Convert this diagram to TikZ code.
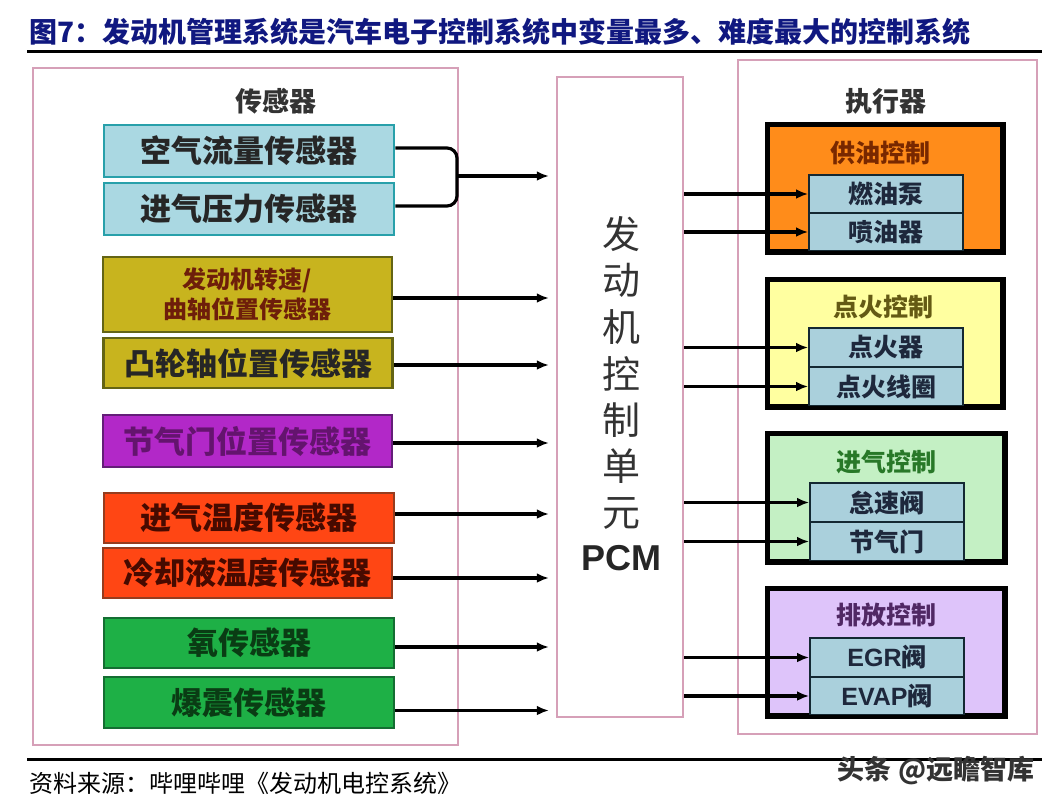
\documentclass[tikz,border=0pt]{standalone}
\usepackage{fontspec}
\newfontfamily\cjk{Noto Sans CJK SC}
\newfontfamily\lat{Liberation Sans}
\usetikzlibrary{arrows.meta,calc}
\definecolor{navy}{RGB}{16,24,128}
\definecolor{pinkb}{RGB}{214,160,184}
\definecolor{bluef}{RGB}{170,216,226}
\definecolor{blued}{RGB}{40,160,170}
\definecolor{olivef}{RGB}{200,180,30}
\definecolor{olived}{RGB}{100,100,20}
\definecolor{olivet}{RGB}{110,30,10}
\definecolor{magf}{RGB}{178,40,200}
\definecolor{magd}{RGB}{100,30,120}
\definecolor{magt}{RGB}{100,20,110}
\definecolor{redf}{RGB}{255,70,20}
\definecolor{redd}{RGB}{150,60,30}
\definecolor{redt}{RGB}{70,10,0}
\definecolor{grnf}{RGB}{30,176,70}
\definecolor{grnd}{RGB}{20,110,50}
\definecolor{grnt}{RGB}{10,60,20}
\definecolor{orgf}{RGB}{255,140,26}
\definecolor{orgt}{RGB}{120,40,0}
\definecolor{ylwf}{RGB}{255,255,160}
\definecolor{ylwt}{RGB}{100,90,20}
\definecolor{lgrf}{RGB}{196,240,196}
\definecolor{lgrt}{RGB}{40,120,40}
\definecolor{lavf}{RGB}{222,196,250}
\definecolor{lavt}{RGB}{80,40,100}
\definecolor{innf}{RGB}{170,208,220}
\definecolor{innd}{RGB}{20,40,50}
\definecolor{innt}{RGB}{30,40,60}
\tikzset{
  panel/.style={draw=pinkb, line width=2.5pt, fill=white, inner sep=0pt},
  sbox/.style={draw, line width=2.5pt, minimum width=290pt, minimum height=50pt, inner sep=0pt, align=center, font=\cjk\bfseries\fontsize{31}{31}\selectfont},
  grp/.style={draw=black, line width=3.5pt, minimum width=234pt, inner sep=0pt},
  gtitle/.style={font=\cjk\bfseries\fontsize{25}{25}\selectfont, inner sep=0pt},
  inn/.style={draw=innd, fill=innf, line width=2pt, minimum width=154pt, inner sep=0pt, text=innt, font=\cjk\bfseries\fontsize{25}{25}\selectfont},
  conn/.style={line width=3.4pt, -{Latex[length=12pt,width=10pt]}},
  lbl/.style={font=\cjk\bfseries\fontsize{27}{27}\selectfont, text=black!80, inner sep=0pt},
  pcmch/.style={font=\cjk\fontsize{38}{38}\selectfont, text=black!80, inner sep=0pt}
}
\begin{document}
\begin{tikzpicture}[x=1pt,y=-1pt]
\useasboundingbox (0,0) rectangle (1055,809);
\fill[white] (0,0) rectangle (1055,809);
% title
\node[anchor=west, text=navy, inner sep=0pt, font=\cjk\bfseries\fontsize{28}{28}\selectfont] (title) at (29,32) {图7：发动机管理系统是汽车电子控制系统中变量最多、难度最大的控制系统};
\draw[line width=3pt] (27,51) -- (1042,51);
\draw[line width=3pt] (27,759) -- (1042,759);
\node[anchor=west, inner sep=0pt, font=\cjk\fontsize{24}{24}\selectfont] (src) at (29,783) {资料来源：哔哩哔哩《发动机电控系统》};
\node[inner sep=0pt, text=black!80, font=\cjk\bfseries\fontsize{27}{27}\selectfont] (wm) at (936,771) {头条 @远瞻智库};
% panels
\node[panel, minimum width=425pt, minimum height=677pt] (lp) at (245.5,406.5) {};
\node[panel, minimum width=299pt, minimum height=674pt] (rp) at (887.5,397) {};
\node[panel, minimum width=126pt, minimum height=640pt] (pcm) at (620,397) {};
\node[lbl] (sl) at (276,101) {传感器};
\node[lbl] (al) at (886,101) {执行器};
% PCM text
\foreach \c [count=\i] in {发,动,机,控,制,单,元}
  \node[pcmch] (pc\i) at (621,{234+46.5*(\i-1)}) {\c};
\node[inner sep=0pt, text=black!85, font=\lat\bfseries\fontsize{36}{36}\selectfont] (pcmt) at (621,558) {PCM};
% sensors
\node[sbox, draw=blued, fill=bluef, text=black!85, minimum height=52pt] (b1) at (249,151) {空气流量传感器};
\node[sbox, draw=blued, fill=bluef, text=black!85, minimum height=52pt] (b2) at (249,209) {进气压力传感器};
\node[sbox, draw=olived, fill=olivef, text=olivet, minimum width=289pt, minimum height=75pt, font=\cjk\bfseries\fontsize{24}{30}\selectfont] (b3) at (247.5,294.5) {发动机转速/\\曲轴位置传感器};
\node[sbox, draw=olived, fill=olivef, text=black!85, minimum width=289pt] (b4) at (248,363) {凸轮轴位置传感器};
\node[sbox, draw=magd, fill=magf, text=magt, minimum width=289pt, minimum height=52pt] (b5) at (247.5,441) {节气门位置传感器};
\node[sbox, draw=redd, fill=redf, text=redt] (b6) at (249,518) {进气温度传感器};
\node[sbox, draw=redd, fill=redf, text=redt, minimum width=289pt] (b7) at (247.5,573) {冷却液温度传感器};
\node[sbox, draw=grnd, fill=grnf, text=grnt] (b8) at (249,643) {氧传感器};
\node[sbox, draw=grnd, fill=grnf, text=grnt, minimum height=51pt] (b9) at (249,702.5) {爆震传感器};
% sensor connectors
\coordinate (brk) at (457,176);
\draw[line width=3.2pt, rounded corners=10pt] ([yshift=3pt]b1.east) -| (brk) |- ([yshift=3pt]b2.east);
\draw[conn, shorten >=7pt] (brk) -- (brk -| pcm.west);
\foreach \b/\s in {b3/-3.5, b4/-2, b5/-2, b6/4, b7/-5, b8/-4, b9/-8}
  \draw[conn, shorten >=7pt] ([yshift=\s pt]\b.east) -- ([yshift=\s pt]\b.east -| pcm.west);
% actuator groups
\node[grp, fill=orgf, minimum height=126pt] (g1) at (885,188) {};
\node[grp, fill=ylwf, minimum height=126pt] (g2) at (885,343) {};
\node[grp, fill=lgrf, minimum height=127pt, minimum width=236pt] (g3) at (886,497.5) {};
\node[grp, fill=lavf, minimum height=126pt, minimum width=236pt] (g4) at (886,652) {};
\node[gtitle, text=orgt] (t1) at (880,153) {供油控制};
\node[gtitle, text=ylwt] (t2) at (883,307) {点火控制};
\node[gtitle, text=lgrt] (t3) at (886,462) {进气控制};
\node[gtitle, text=lavt] (t4) at (886,615) {排放控制};
\node[inn, minimum height=38pt] (i11) at (886,194) {燃油泵};
\node[inn, minimum height=38pt] (i12) at (886,232) {喷油器};
\node[inn, minimum height=39pt] (i21) at (886,347.5) {点火器};
\node[inn, minimum height=39pt] (i22) at (886,386.5) {点火线圈};
\node[inn, minimum height=39pt] (i31) at (887,502.5) {怠速阀};
\node[inn, minimum height=39pt] (i32) at (887,541.5) {节气门};
\node[inn, minimum height=39pt] (i41) at (887,657.5) {{\lat\bfseries EGR}阀};
\node[inn, minimum height=38pt] (i42) at (887,696) {{\lat\bfseries EVAP}阀};
\foreach \g in {g1,g2,g3,g4}
  \draw[line width=3.5pt] (\g.south west) rectangle (\g.north east);
% actuator connectors
\foreach \t in {i11,i12,i21,i22,i31,i32,i41,i42}
  \draw[conn] (\t.west -| pcm.east) -- (\t.west);
\end{tikzpicture}
\end{document}
